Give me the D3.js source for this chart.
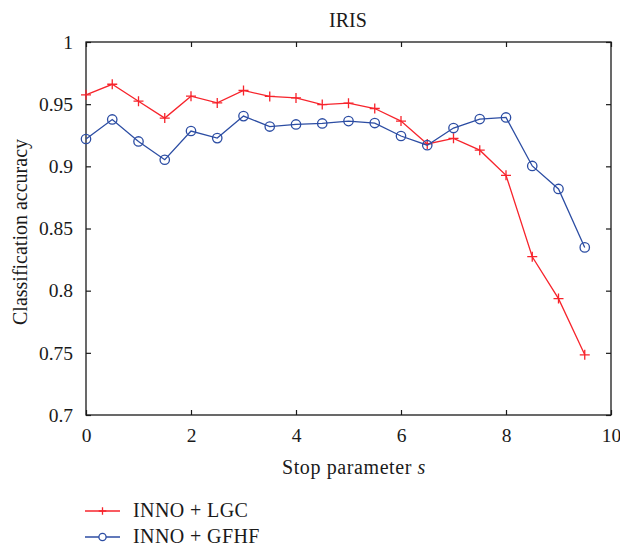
<!DOCTYPE html>
<html><head><meta charset="utf-8">
<script src="https://cdn.jsdelivr.net/npm/d3@7"></script>
<style>
body{margin:0;background:#fff;}
text{font-family:"Liberation Serif","DejaVu Serif",serif;fill:#1a1a1a;}
</style></head>
<body><svg id="c" width="620" height="549"></svg>
<script>
const stopParam = [0,0.5,1,1.5,2,2.5,3,3.5,4,4.5,5,5.5,6,6.5,7,7.5,8,8.5,9,9.5];
const lgc  = [0.9575,0.966,0.9524,0.9388,0.9564,0.951,0.961,0.9562,0.955,0.9497,0.9508,0.9465,0.9364,0.918,0.9225,0.913,0.8928,0.8273,0.7936,0.7484];
const gfhf = [0.922,0.9377,0.920,0.9053,0.9284,0.9227,0.9404,0.932,0.9337,0.9345,0.9364,0.9348,0.9244,0.917,0.9308,0.938,0.9393,0.9003,0.8818,0.8348];
const xTicks = [0,2,4,6,8,10];
const yTicks = [0.7,0.75,0.8,0.85,0.9,0.95,1];
const seriesNames = ["INNO + LGC","INNO + GFHF"];
const colors = ["#f7242c","#2c4da3"];

const svg = d3.select("#c");
const L=86,R=611,T=42,B=415;
const x = d3.scaleLinear().domain([0,10]).range([L,R]);
const y = d3.scaleLinear().domain([0.7,1]).range([B,T]);

svg.append("rect").attr("x",L).attr("y",T).attr("width",R-L).attr("height",B-T)
  .attr("fill","none").attr("stroke","#1a1a1a").attr("stroke-width",1.3);

const tk=5;
const gx = svg.append("g").attr("transform",`translate(0,${B})`)
  .call(d3.axisBottom(x).tickValues(xTicks).tickSize(-tk).tickPadding(13).tickFormat(d3.format("d")));
const gxt = svg.append("g").attr("transform",`translate(0,${T})`)
  .call(d3.axisTop(x).tickValues(xTicks).tickSize(-tk).tickFormat(""));
const gy = svg.append("g").attr("transform",`translate(${L},0)`)
  .call(d3.axisLeft(y).tickValues(yTicks).tickSize(-tk).tickPadding(13).tickFormat(d=>String(+d.toFixed(2))));
const gyr = svg.append("g").attr("transform",`translate(${R},0)`)
  .call(d3.axisRight(y).tickValues(yTicks).tickSize(-tk).tickFormat(""));
[gx,gxt,gy,gyr].forEach(g=>{
  g.select(".domain").remove();
  g.selectAll("line").attr("stroke","#1a1a1a").attr("stroke-width",1.2);
  g.selectAll("text").style("font-family","'Liberation Serif',serif").style("font-size","19.5px")
   .attr("fill","#1a1a1a");
});

const line = d3.line().x((d,i)=>x(stopParam[i])).y(d=>y(d));
function plus(g,cx,cy,s,c){
  g.append("path").attr("d",`M${cx-s},${cy}H${cx+s}M${cx},${cy-s}V${cy+s}`)
   .attr("stroke",c).attr("stroke-width",1.3).attr("fill","none");
}
[lgc,gfhf].forEach((data,k)=>{
  svg.append("path").datum(data).attr("d",line).attr("fill","none")
    .attr("stroke",colors[k]).attr("stroke-width",1.3);
  const g=svg.append("g");
  data.forEach((v,i)=>{
    if(k===0) plus(g,x(stopParam[i]),y(v),5,colors[k]);
    else g.append("circle").attr("cx",x(stopParam[i])).attr("cy",y(v)).attr("r",4.7)
      .attr("fill","none").attr("stroke",colors[k]).attr("stroke-width",1.3);
  });
});

const fs="20px";
svg.append("text").attr("x",348).attr("y",27).attr("text-anchor","middle")
  .style("font-size",fs).text("IRIS");
const xl = svg.append("text").attr("x",354).attr("y",474).attr("text-anchor","middle")
  .style("font-size",fs).style("letter-spacing","0.6px");
xl.append("tspan").text("Stop parameter ");
xl.append("tspan").style("font-style","italic").text("s");
svg.append("text").attr("transform",`translate(27,232) rotate(-90)`).attr("text-anchor","middle")
  .style("font-size",fs).text("Classification accuracy");

const ly=[511,537];
seriesNames.forEach((n,k)=>{
  svg.append("line").attr("x1",85).attr("x2",120).attr("y1",ly[k]).attr("y2",ly[k])
    .attr("stroke",colors[k]).attr("stroke-width",1.3);
  if(k===0){ const g=svg.append("g"); plus(g,102.5,ly[k],3.8,colors[k]); }
  else svg.append("circle").attr("cx",102.5).attr("cy",ly[k]).attr("r",3.6).attr("fill","#fff")
    .attr("stroke",colors[k]).attr("stroke-width",1.3);
  svg.append("text").attr("x",133).attr("y",ly[k]+6).style("font-size",fs)
    .style("letter-spacing","0.4px").text(n);
});
</script></body></html>
